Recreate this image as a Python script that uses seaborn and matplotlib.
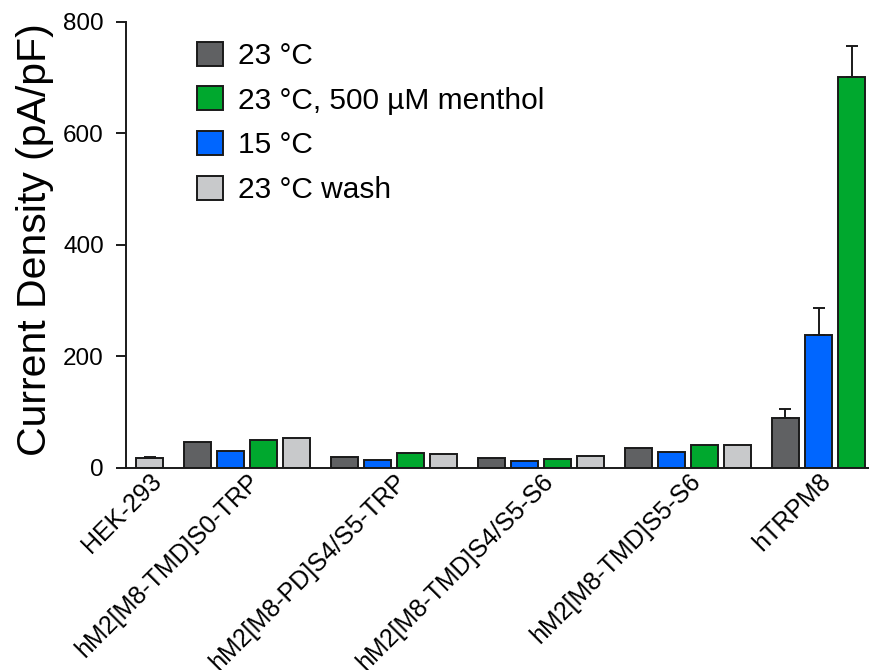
import numpy as np
import pandas as pd
import matplotlib
matplotlib.use("Agg")
import matplotlib.pyplot as plt
from matplotlib.patches import Rectangle
import seaborn as sns

# Constructs tested, in plotting order
constructs = [
    "HEK-293",
    "hM2[M8-TMD]S0-TRP",
    "hM2[M8-PD]S4/S5-TRP",
    "hM2[M8-TMD]S4/S5-S6",
    "hM2[M8-TMD]S5-S6",
    "hTRPM8",
]

# Conditions in bar order within a group
conditions = ["23 °C", "15 °C", "23 °C, 500 µM menthol", "23 °C wash"]
legend_order = ["23 °C", "23 °C, 500 µM menthol", "15 °C", "23 °C wash"]

# Mean current density (pA/pF) per construct; NaN = not recorded
cd_23 = [np.nan, 46.8, 18.7, 16.9, 34.9, 88.9]
cd_15 = [np.nan, 30.6, 14.4, 12.0, 27.7, 238.9]
cd_menthol = [np.nan, 49.3, 26.5, 16.2, 40.3, 701.0]
cd_wash = [17.5, 52.9, 25.2, 21.0, 41.4, np.nan]

# Upper error (SEM) where visible
sem_23 = [np.nan, 0, 0, 0, 0, 16.0]
sem_15 = [np.nan, 0, 0, 0, 0, 48.0]
sem_menthol = [np.nan, 0, 0, 0, 0, 56.0]
sem_wash = [2.0, 0, 0, 0, 0, np.nan]

colors = {
    "23 °C": "#606163",
    "15 °C": "#0066ff",
    "23 °C, 500 µM menthol": "#00a82e",
    "23 °C wash": "#c8c9cb",
}

means = dict(zip(conditions, [cd_23, cd_15, cd_menthol, cd_wash]))
sems = dict(zip(conditions, [sem_23, sem_15, sem_menthol, sem_wash]))

rows = []
for cond in conditions:
    for i, c in enumerate(constructs):
        if not np.isnan(means[cond][i]):
            rows.append({"construct": c, "condition": cond,
                         "density": means[cond][i], "sem": sems[cond][i]})
df = pd.DataFrame(rows)

sns.set_style("white")
plt.rcParams["font.family"] = ["Liberation Sans", "DejaVu Sans"]
plt.rcParams["text.color"] = "black"
plt.rcParams["axes.labelcolor"] = "black"

INK = "#1a1a1a"

fig = plt.figure(figsize=(8.69, 6.70), dpi=100)
ax = fig.add_axes([126 / 869, 1 - 467.7 / 670, 743 / 869, 445.7 / 670])

sns.barplot(data=df, x="construct", y="density", hue="condition",
            order=constructs, hue_order=conditions, palette=colors,
            saturation=1, width=0.9, gap=0.18, errorbar=None,
            edgecolor=INK, linewidth=1.4, legend=False, ax=ax)

# One-sided error bars on top of each bar, and tick positions at the
# middle of the bars present in each group
centers = {i: [] for i in range(len(constructs))}
for cond, cont in zip(conditions, ax.containers):
    for bar in cont:
        xc = bar.get_x() + bar.get_width() / 2
        gi = int(round(xc))
        centers[gi].append(xc)
        err = sems[cond][gi]
        if err and not np.isnan(err):
            ax.errorbar(xc, bar.get_height(), yerr=[[0], [err]], fmt="none",
                        ecolor=INK, elinewidth=1.4, capsize=4.5,
                        capthick=1.4, zorder=1)

ax.set_xlim(0.177, 5.231)
ax.set_ylim(0, 800)
ax.set_yticks([0, 200, 400, 600, 800])
tick_pos = [np.mean(centers[i]) for i in range(len(constructs))]
ax.set_xticks(tick_pos)
ax.set_xticklabels(constructs, rotation=45, ha="right",
                   rotation_mode="anchor", fontsize=18, color="black")
ax.tick_params(axis="x", length=0, pad=1)
ax.tick_params(axis="y", length=7, width=1.4, direction="out",
               labelsize=17.5, pad=9, colors=INK, labelcolor="black",
               left=True)
ax.set_xlabel("")
ax.set_ylabel("Current Density (pA/pF)", fontsize=29.5)
ax.yaxis.set_label_coords(-0.097, 0.511)

sns.despine(ax=ax)
for s in ("left", "bottom"):
    ax.spines[s].set_linewidth(1.4)
    ax.spines[s].set_color(INK)

handles = [Rectangle((0, 0), 1, 1, facecolor=colors[c], edgecolor=INK,
                     linewidth=1.4) for c in legend_order]
ax.legend(handles, legend_order, loc="upper left",
          bbox_to_anchor=(0.096, 0.956), frameon=False, fontsize=21.5,
          handlelength=0.86, handleheight=0.86, handletextpad=0.5,
          labelspacing=0.55, borderaxespad=0, borderpad=0,
          labelcolor="black")

fig.savefig("out.png", dpi=100)
